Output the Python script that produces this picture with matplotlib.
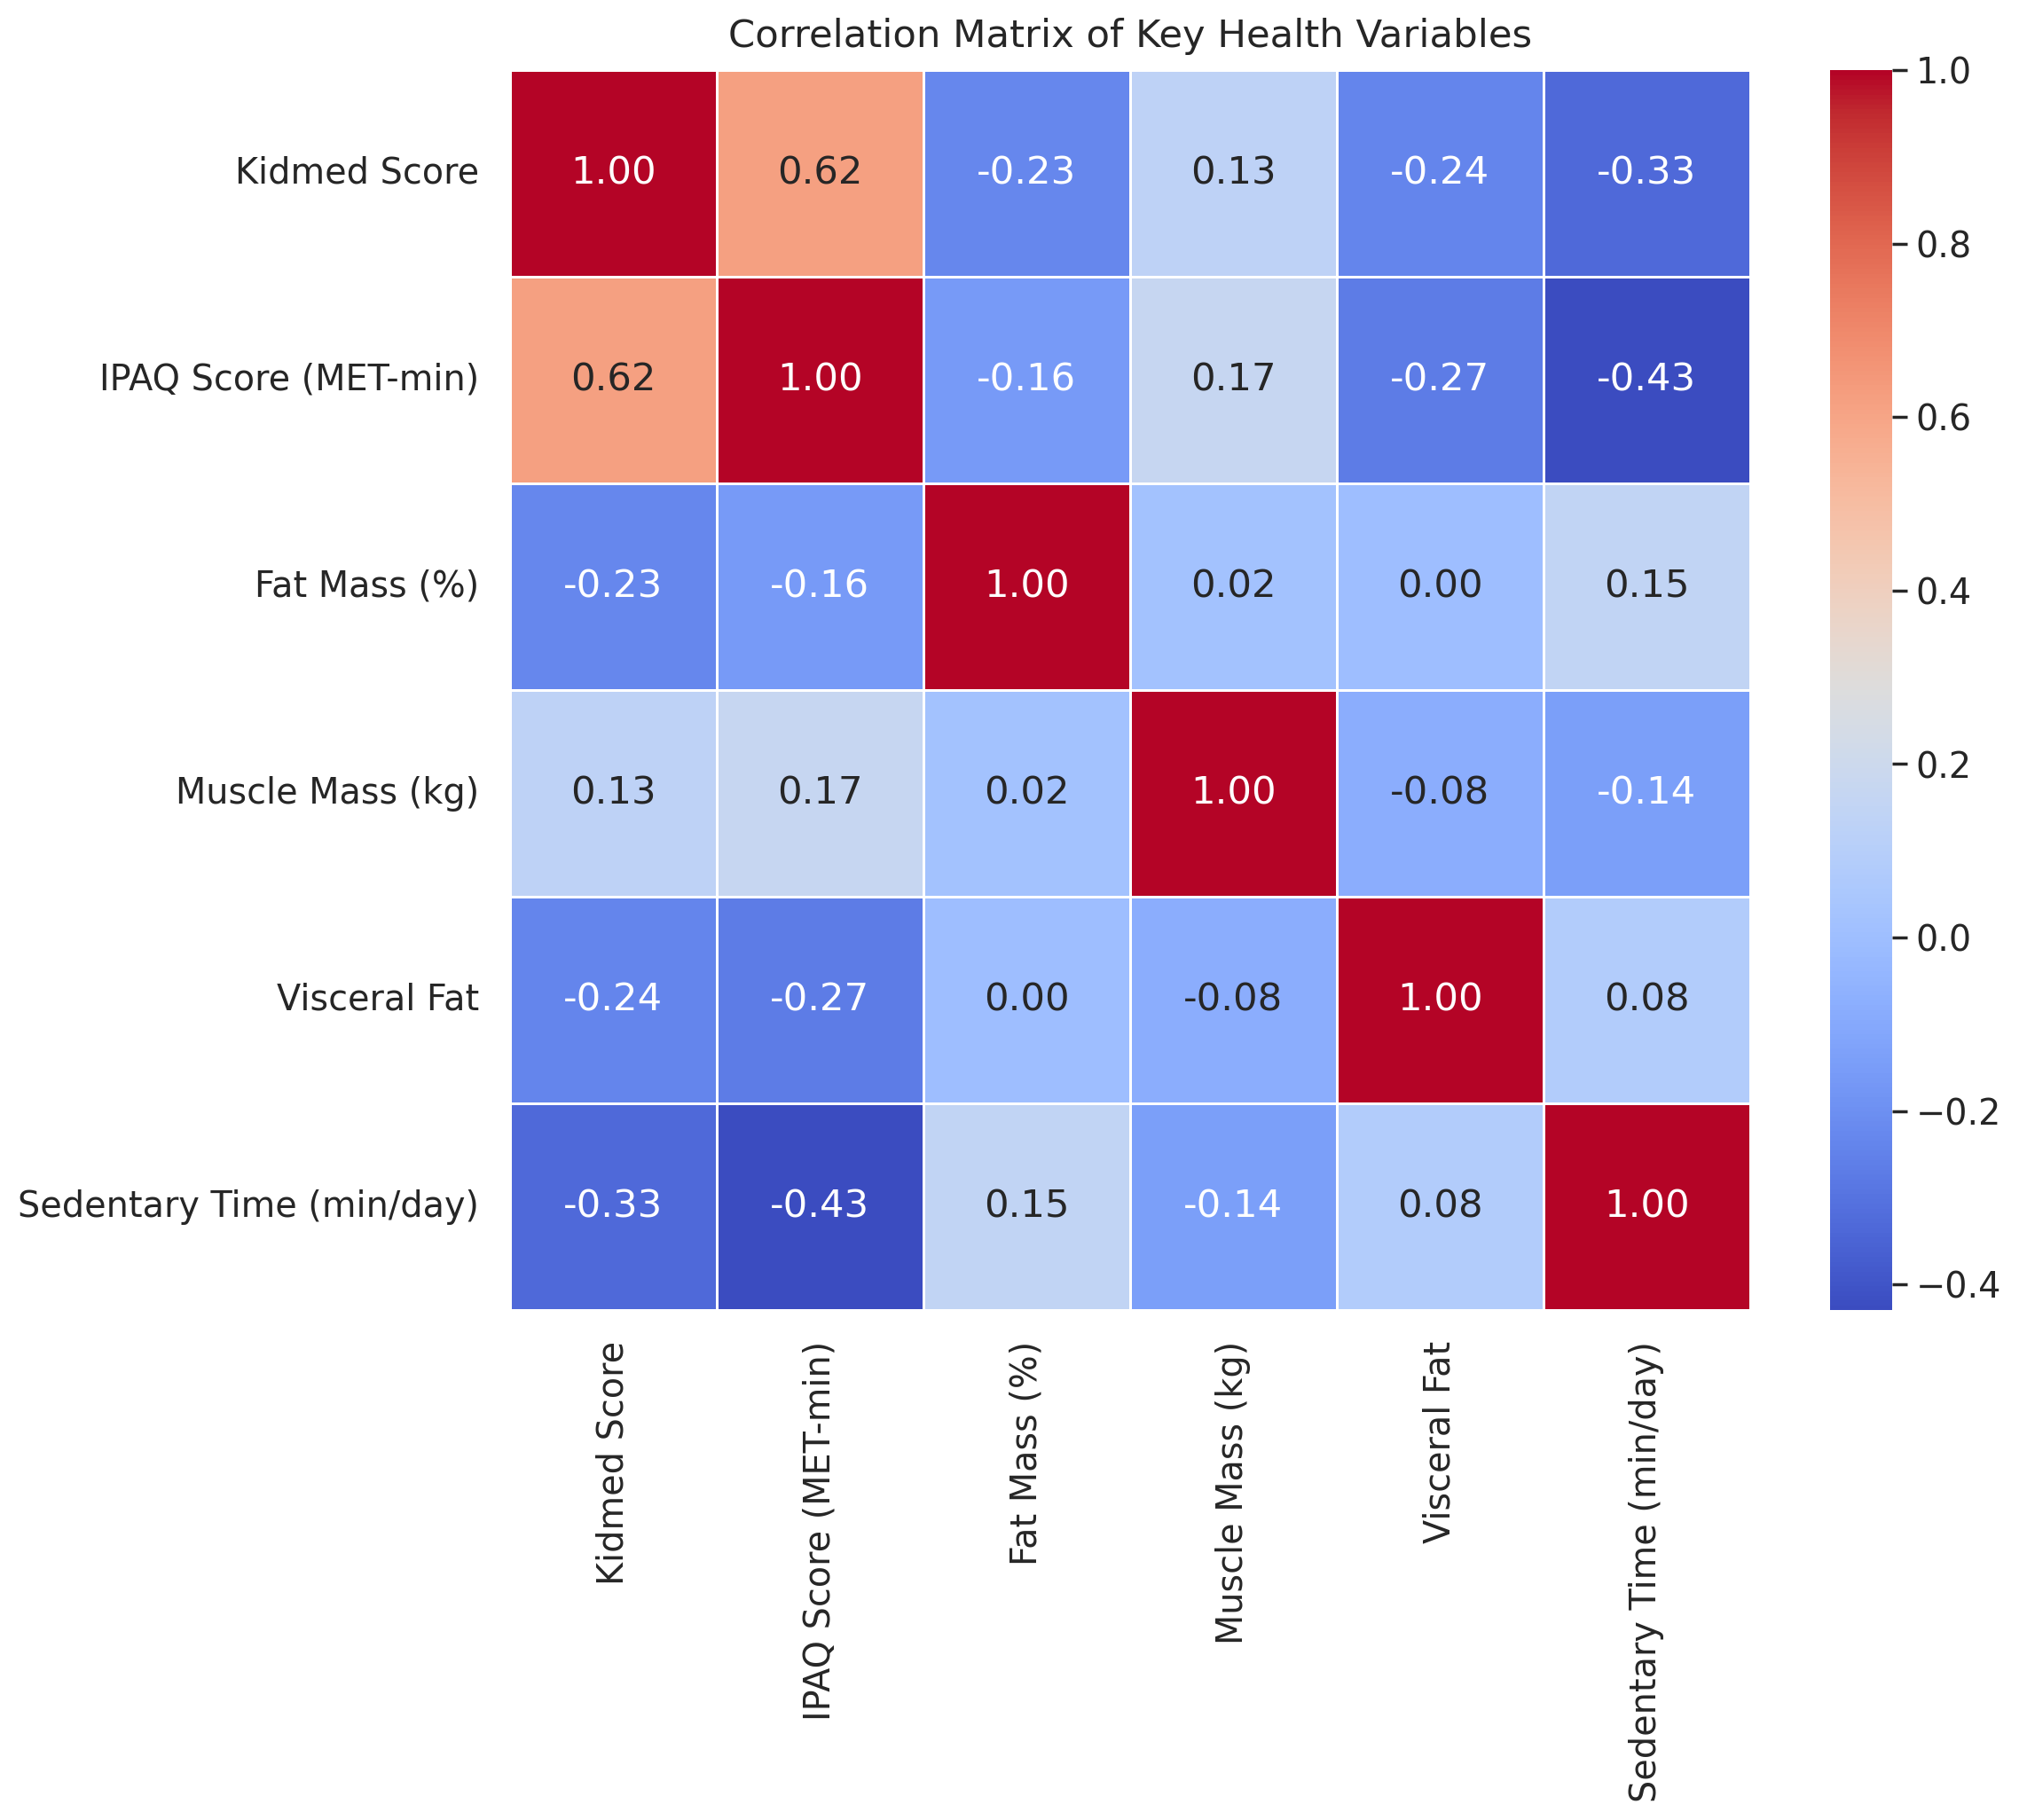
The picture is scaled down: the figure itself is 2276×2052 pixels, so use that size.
import numpy as np
import matplotlib
matplotlib.use("Agg")
import matplotlib.pyplot as plt
import seaborn as sns
import pandas as pd

labels = ["Kidmed Score", "IPAQ Score (MET-min)", "Fat Mass (%)",
          "Muscle Mass (kg)", "Visceral Fat", "Sedentary Time (min/day)"]

row_kidmed = [1.00, 0.62, -0.23, 0.13, -0.24, -0.33]
row_ipaq = [0.62, 1.00, -0.16, 0.17, -0.27, -0.43]
row_fat = [-0.23, -0.16, 1.00, 0.02, 0.00, 0.15]
row_muscle = [0.13, 0.17, 0.02, 1.00, -0.08, -0.14]
row_visceral = [-0.24, -0.27, 0.00, -0.08, 1.00, 0.08]
row_sedentary = [-0.33, -0.43, 0.15, -0.14, 0.08, 1.00]

corr = pd.DataFrame([row_kidmed, row_ipaq, row_fat, row_muscle, row_visceral, row_sedentary],
                    index=labels, columns=labels)

sns.set_theme(style="white", font_scale=1.3)
fig, ax = plt.subplots(figsize=(12.3, 10.25))
sns.heatmap(corr, annot=True, fmt=".2f", cmap="coolwarm", linewidths=1, linecolor="white",
            square=True, ax=ax)
ax.set_title("Correlation Matrix of Key Health Variables", pad=9.5)
ax.tick_params(axis="both", pad=6.5)
plt.setp(ax.get_xticklabels(), rotation=90)
plt.setp(ax.get_yticklabels(), rotation=0)
plt.tight_layout()
fig.savefig("out.png", dpi=200, bbox_inches="tight")
